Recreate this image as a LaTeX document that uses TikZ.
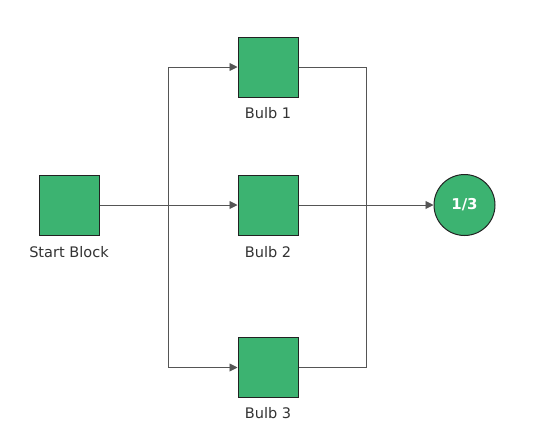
\documentclass[tikz,border=0pt]{standalone}
\usepackage{fontspec}
\setmainfont{DejaVu Sans}
\usetikzlibrary{arrows.meta}
\definecolor{boxgreen}{HTML}{3CB371}
\definecolor{boxedge}{HTML}{222222}
\definecolor{wire}{HTML}{555555}
\definecolor{labeltext}{HTML}{333333}
\begin{document}
\begin{tikzpicture}[x=1bp,y=-1bp,
  block/.style={draw=boxedge, line width=1bp, fill=boxgreen, minimum width=60bp, minimum height=60bp, inner sep=0pt},
  result/.style={circle, draw=boxedge, line width=1bp, fill=boxgreen, minimum size=61bp, inner sep=0pt, text=white, font=\fontsize{15}{17}\selectfont\bfseries},
  lbl/.style={text=labeltext, font=\fontsize{14.6}{17}\selectfont, inner sep=0pt},
  wireline/.style={draw=wire, line width=0.9bp},
  arr/.style={wireline, -{Triangle[length=8bp,width=8bp]}}
]
\useasboundingbox (0,0) rectangle (544,427);
\node[block] (start) at (69,205) {};
\node[block] (b1) at (268,67) {};
\node[block] (b2) at (268,205) {};
\node[block] (b3) at (268,367.5) {};
\node[result] (out) at (464.5,205) {1/3};
\node[lbl] (lstart) at (69,252) {Start Block};
\node[lbl] (l1) at (268,113) {Bulb 1};
\node[lbl] (l2) at (268,252) {Bulb 2};
\node[lbl] (l3) at (268,413) {Bulb 3};
\coordinate (split) at (168,205);
\coordinate (join) at (366,205);
\draw[arr] (start.east) -- (b2.west);
\draw[arr] (split) |- (b1.west);
\draw[arr] (split) |- (b3.west);
\draw[wireline] (b1.east) -| (join);
\draw[wireline] (b3.east) -| (join);
\draw[arr] (b2.east) -- (out.west);
\end{tikzpicture}
\end{document}
